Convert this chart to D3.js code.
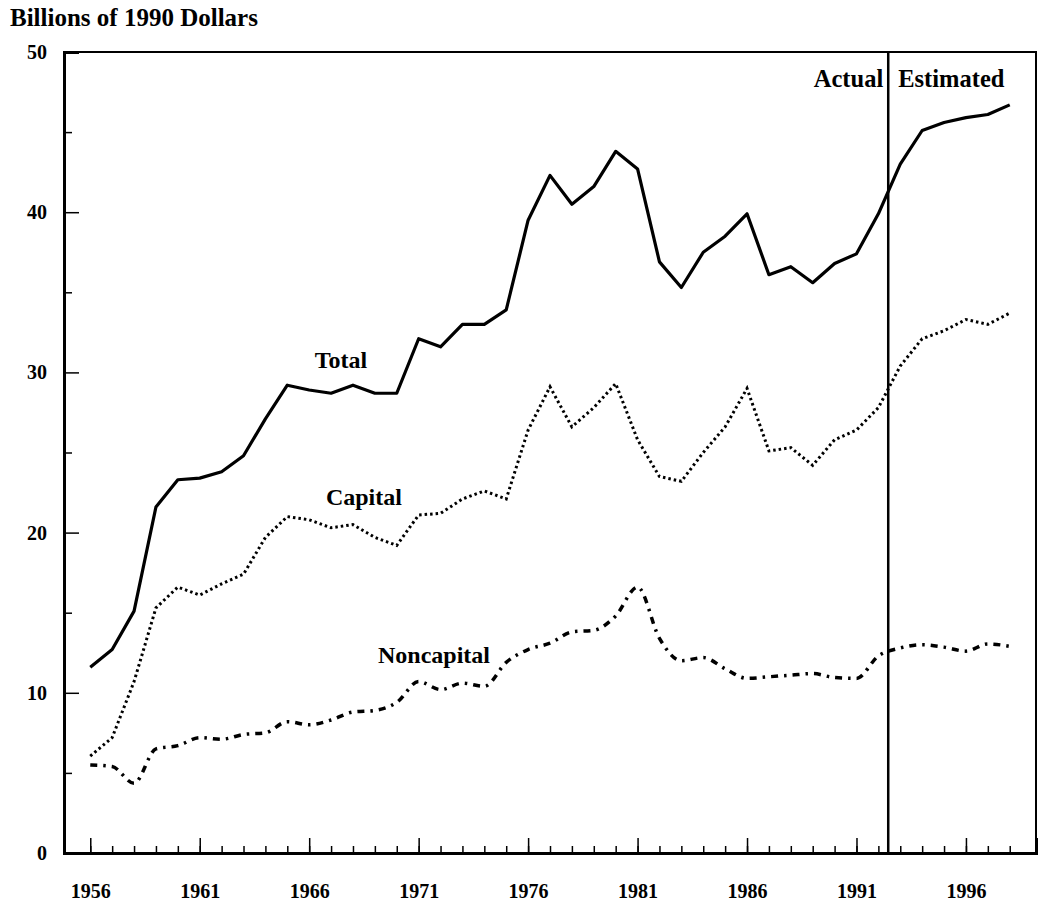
<!DOCTYPE html>
<html>
<head>
<meta charset="utf-8">
<script src="https://cdn.jsdelivr.net/npm/d3@7"></script>
<style>
  html, body { margin: 0; padding: 0; background: #fff; }
  svg { display: block; }
  text { font-family: "Liberation Serif", "Times New Roman", serif; fill: #000; }
</style>
</head>
<body>
<svg id="chart" width="1038" height="901"></svg>
<script>
// ---- data ----
const years = d3.range(1956, 1999);
const total = [11.6, 12.7, 15.1, 21.6, 23.3, 23.4, 23.8, 24.8, 27.1, 29.2,
               28.9, 28.7, 29.2, 28.7, 28.7, 32.1, 31.6, 33.0, 33.0, 33.9,
               39.5, 42.3, 40.5, 41.6, 43.8, 42.7, 36.9, 35.3, 37.5, 38.5,
               39.9, 36.1, 36.6, 35.6, 36.8, 37.4, 39.9, 43.0, 45.1, 45.6,
               45.9, 46.1, 46.7];
const capital = [6.05, 7.2, 10.7, 15.3, 16.6, 16.1, 16.8, 17.4, 19.7, 21.0,
                 20.8, 20.3, 20.5, 19.7, 19.2, 21.1, 21.2, 22.1, 22.6, 22.1,
                 26.4, 29.1, 26.6, 27.8, 29.3, 25.8, 23.5, 23.2, 25.0, 26.6,
                 29.0, 25.1, 25.3, 24.2, 25.8, 26.4, 27.8, 30.4, 32.1, 32.6,
                 33.3, 33.0, 33.7];
const noncapital = [5.5, 5.4, 4.35, 6.5, 6.7, 7.2, 7.1, 7.4, 7.5, 8.2,
                    8.0, 8.3, 8.8, 8.9, 9.4, 10.7, 10.2, 10.6, 10.4, 11.9,
                    12.7, 13.1, 13.8, 13.9, 14.8, 16.6, 13.4, 12.0, 12.2, 11.5,
                    10.9, 11.0, 11.1, 11.2, 10.95, 10.9, 12.3, 12.8, 13.0, 12.85,
                    12.6, 13.05, 12.9];
const xTickLabels = [1956, 1961, 1966, 1971, 1976, 1981, 1986, 1991, 1996];
const yTickLabels = [0, 10, 20, 30, 40, 50];
const yMinorTicks = [5, 15, 25, 35, 45];
const dividerYear = 1992.45;
const seriesLabels = [
  { name: "Total", year: 1967.45, value: 30.3 },
  { name: "Capital", year: 1968.5, value: 21.7 },
  { name: "Noncapital", year: 1971.7, value: 11.86 }
];
const periodLabels = ["Actual", "Estimated"];
const title = "Billions of 1990 Dollars";

// ---- layout ----
const svg = d3.select("#chart");
const mLeft = 64, mRight = 1036, mTop = 52, mBottom = 853;
const x = d3.scaleLinear().domain([1954.8, 1999.2]).range([mLeft, mRight]);
const y = d3.scaleLinear().domain([0, 50]).range([mBottom, mTop]);

// title
svg.append("text").attr("x", 10).attr("y", 26)
  .attr("font-size", 25).attr("font-weight", "bold").text(title);

// frame
svg.append("rect").attr("x", mLeft).attr("y", mTop)
  .attr("width", mRight - mLeft).attr("height", mBottom - mTop)
  .attr("fill", "none").attr("stroke", "#000").attr("stroke-width", 2);

// x axis: minor ticks every year
const xMinor = svg.append("g").attr("transform", `translate(0,${mBottom})`)
  .call(d3.axisBottom(x).tickValues(years).tickSize(-7).tickFormat(""));
// x axis: major ticks + labels
const xMajor = svg.append("g").attr("transform", `translate(0,${mBottom})`)
  .call(d3.axisBottom(x).tickValues(xTickLabels).tickSize(-15).tickPadding(31).tickFormat(d3.format("d")));
[xMinor, xMajor].forEach(g => {
  g.select(".domain").attr("stroke-width", 3);
  g.selectAll(".tick line").attr("stroke-width", 1.5);
});
xMajor.selectAll("text").attr("font-size", 20).attr("font-weight", "bold")
  .attr("font-family", "Liberation Serif, serif");

// y axis
const yMinor = svg.append("g").attr("transform", `translate(${mLeft},0)`)
  .call(d3.axisLeft(y).tickValues(yMinorTicks).tickSize(-8).tickFormat(""));
const yMajor = svg.append("g").attr("transform", `translate(${mLeft},0)`)
  .call(d3.axisLeft(y).tickValues(yTickLabels).tickSize(-15).tickPadding(17).tickFormat(d3.format("d")));
[yMinor, yMajor].forEach(g => {
  g.select(".domain").attr("stroke-width", 3);
  g.selectAll(".tick line").attr("stroke-width", 1.5);
});
yMajor.selectAll("text").attr("font-size", 20).attr("font-weight", "bold")
  .attr("font-family", "Liberation Serif, serif");

// divider line
svg.append("line")
  .attr("x1", x(dividerYear)).attr("x2", x(dividerYear))
  .attr("y1", y(0)).attr("y2", y(50))
  .attr("stroke", "#000").attr("stroke-width", 2.5);

svg.append("text").attr("x", x(dividerYear) - 5).attr("y", 87)
  .attr("text-anchor", "end").attr("font-size", 24.5).attr("font-weight", "bold")
  .text(periodLabels[0]);
svg.append("text").attr("x", x(dividerYear) + 10).attr("y", 87)
  .attr("text-anchor", "start").attr("font-size", 24.5).attr("font-weight", "bold")
  .text(periodLabels[1]);

// lines
const line = d3.line().x((d, i) => x(years[i])).y(d => y(d));
const lineSmooth = d3.line().x((d, i) => x(years[i])).y(d => y(d)).curve(d3.curveMonotoneX);

svg.append("path").datum(total).attr("d", line)
  .attr("fill", "none").attr("stroke", "#000").attr("stroke-width", 3.2)
  .attr("stroke-linejoin", "round");
svg.append("path").datum(capital).attr("d", line)
  .attr("fill", "none").attr("stroke", "#000").attr("stroke-width", 3)
  .attr("stroke-dasharray", "2.5,3");
svg.append("path").datum(noncapital).attr("d", lineSmooth)
  .attr("fill", "none").attr("stroke", "#000").attr("stroke-width", 3.5)
  .attr("stroke-dasharray", "7,6,2.5,6");

// series labels
svg.selectAll("text.series").data(seriesLabels).enter().append("text")
  .attr("class", "series")
  .attr("x", d => x(d.year)).attr("y", d => y(d.value))
  .attr("text-anchor", "middle").attr("font-size", 24).attr("font-weight", "bold")
  .text(d => d.name);
</script>
</body>
</html>
